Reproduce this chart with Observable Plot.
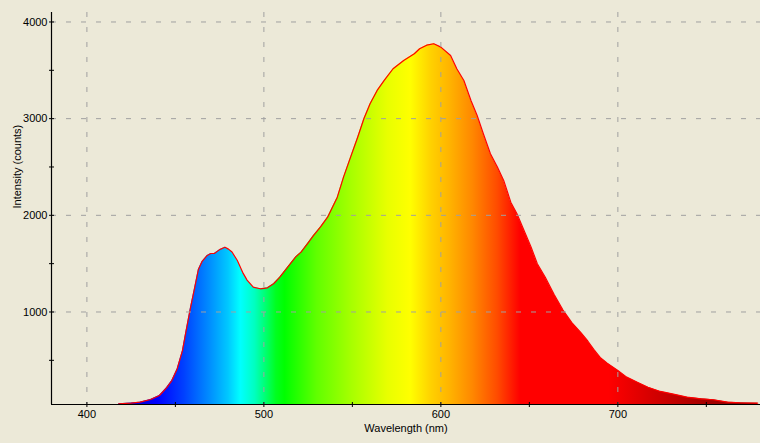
<!DOCTYPE html>
<html><head><meta charset="utf-8">
<script src="https://cdn.jsdelivr.net/npm/d3@7"></script>
<script src="https://cdn.jsdelivr.net/npm/@observablehq/plot@0.6"></script>
<style>
html,body{margin:0;padding:0;background:#ECE9D8;}
#chart svg{display:block}
</style></head><body><div id="chart"></div>
<script>
// Spectrum (wavelength nm, intensity counts)
const wavelengths = [418,425,430,436,441,445,448,451,454,456,458.5,461,463,465,468,470,472,475,478,480,482,485,488,490.5,494,498,502,505.5,509,512,515,518,521,525,528,532,536,541.5,545,549,553,556.5,560,564,568,573,579,585,588,592,596,600,605.5,609,613,617,620.5,624,628,632,635.5,639.5,643,647,651,654.5,659,664,669,674,679,683,686.5,690,694,700,705,711,717,724,732,739,747,754,762,769,779];
const intensities = [50,58,67,95,136,215,290,410,600,800,1040,1260,1440,1520,1585,1605,1605,1645,1670,1650,1620,1533,1410,1330,1257,1240,1250,1292,1360,1430,1499,1570,1619,1715,1790,1880,1981,2188,2395,2602,2808,2999,3154,3292,3395,3516,3602,3671,3723,3760,3775,3740,3654,3516,3395,3188,3033,2844,2637,2498,2361,2136,2016,1843,1671,1499,1360,1180,1020,890,790,700,610,530,470,395,326,274,222,178,147,119,102,92,67,61,57];
const majorX = [400,500,600,700];
const minorX = [450,550,650,750];
const majorY = [1000,2000,3000,4000];
const minorY = [500,1500,2500,3500];
const xLabel = "Wavelength (nm)";
const yLabel = "Intensity (counts)";
// colour of light by wavelength (fill gradient stops)
const stopWavelengths = [380,420,440,455,470,480,487,495,500,507,512,530,550,570,583,595,605,618,632,645,695,720,750,781];
const stopColors = ["#000060","#0000c0","#0000ff","#0040ff","#0090ff","#00c8ff","#00ffff","#00ffc0","#00ff80","#00ff20","#00ff00","#60ff00","#a8ff00","#e8ff00","#ffff00","#ffd000","#ffb400","#ff8800","#ff4c00","#ff0000","#ff0000","#d40000","#a40000","#900000"];

const data = wavelengths.map((w, i) => ({w, v: intensities[i]}));
const xDomain = [380, 780.6];
const gridStyle = {stroke: "#a0a0a0", strokeOpacity: 1, strokeWidth: 1, strokeDasharray: "5,10"};
const plain = (d) => String(d);

const plot = Plot.plot({
  width: 760, height: 443,
  marginLeft: 51, marginRight: 0, marginTop: 12, marginBottom: 39,
  style: {background: "#ECE9D8", fontFamily: "'Liberation Sans', Arial, sans-serif", fontSize: "11px", color: "#000"},
  x: {domain: xDomain},
  y: {domain: [43, 4098]},
  marks: [
    Plot.areaY(data, {x: "w", y: "v", fill: "url(#spectrumGradient)", clip: true}),
    Plot.lineY(data, {x: "w", y: "v", stroke: "#ff0000", strokeWidth: 1.2, clip: true}),
    Plot.gridX(majorX, gridStyle),
    Plot.gridY(majorY, gridStyle),
    Plot.ruleX([xDomain[0]], {stroke: "#000", strokeWidth: 1.2}),
    Plot.ruleY([43], {stroke: "#000", strokeWidth: 1.2}),
    Plot.axisX([...majorX, ...minorX], {tickSize: 5, dy: -2, tickFormat: () => "", label: null}),
    Plot.axisY([...majorY, ...minorY], {tickSize: 5, dx: 3, tickFormat: () => "", label: null}),
    Plot.axisX(majorX, {tickSize: 0, tickPadding: 6, tickFormat: plain, label: null, fill: "#000"}),
    Plot.axisY(majorY, {tickSize: 0, tickPadding: 4, tickFormat: plain, label: null, fill: "#000"}),
    Plot.text([xLabel], {frameAnchor: "bottom", dy: 27, fill: "#000", fontSize: 11}),
    Plot.text([yLabel], {frameAnchor: "left", dx: -34, rotate: -90, fill: "#000", fontSize: 11})
  ]
});

// gradient positioned with the x scale
const xs = plot.scale("x");
const x0 = xs.apply(stopWavelengths[0]);
const x1 = xs.apply(stopWavelengths[stopWavelengths.length - 1]);
const ns = "http://www.w3.org/2000/svg";
const defs = document.createElementNS(ns, "defs");
const grad = document.createElementNS(ns, "linearGradient");
grad.setAttribute("id", "spectrumGradient");
grad.setAttribute("gradientUnits", "userSpaceOnUse");
grad.setAttribute("x1", x0); grad.setAttribute("x2", x1);
grad.setAttribute("y1", 0); grad.setAttribute("y2", 0);
stopWavelengths.forEach((w, i) => {
  const s = document.createElementNS(ns, "stop");
  s.setAttribute("offset", (xs.apply(w) - x0) / (x1 - x0));
  s.setAttribute("stop-color", stopColors[i]);
  grad.appendChild(s);
});
defs.appendChild(grad);
plot.insertBefore(defs, plot.firstChild);
document.getElementById("chart").appendChild(plot);
</script>
</body></html>
